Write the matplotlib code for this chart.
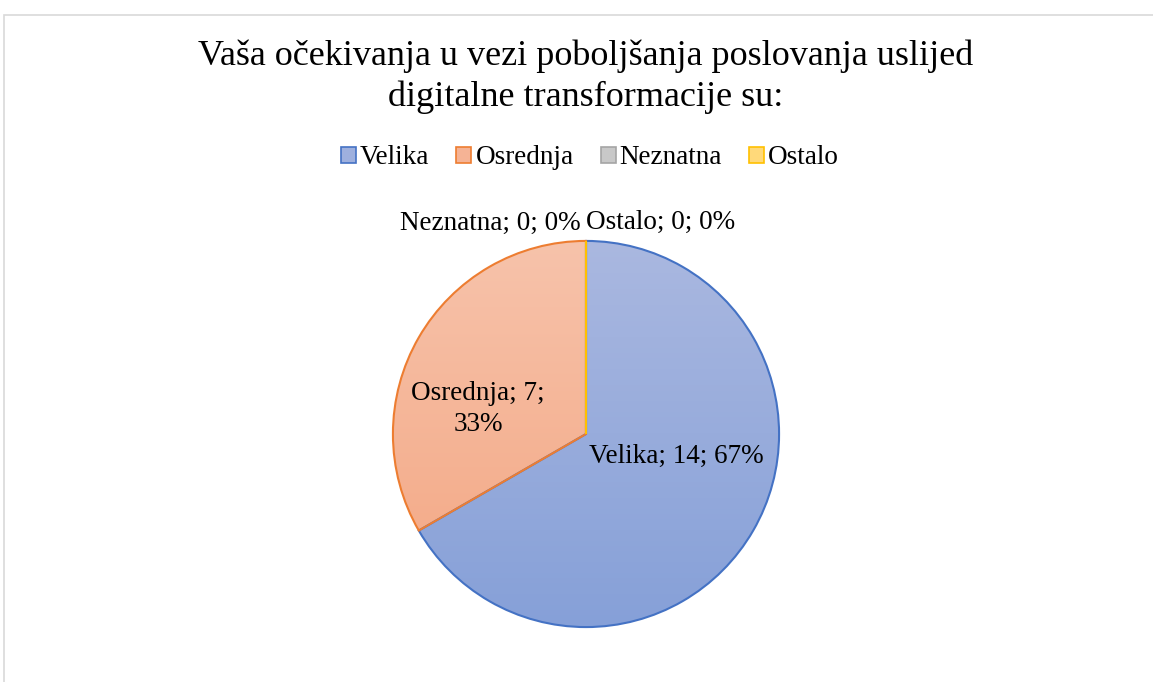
import numpy as np
import matplotlib
matplotlib.use("Agg")
import matplotlib.pyplot as plt
from matplotlib.patches import Patch, Rectangle
from matplotlib.colors import LinearSegmentedColormap


# =========================
# DATA
# =========================

categories = ["Velika", "Osrednja", "Neznatna", "Ostalo"]
counts = [14, 7, 0, 0]

title = "Vaša očekivanja u vezi poboljšanja poslovanja uslijed\ndigitalne transformacije su:"

edge_colors = ["#4472c4", "#ed7d31", "#a5a5a5", "#ffc000"]
top_colors = ["#aab8e0", "#f7c3ab", "#d0d0d0", "#ffdc85"]
bottom_colors = ["#86a0d8", "#f3a682", "#b8b8b8", "#ffcf50"]
legend_fill = ["#9eb0de", "#f5b395", "#c8c8c8", "#ffd97a"]


plt.rcParams["font.family"] = ["Liberation Serif", "DejaVu Serif"]

W, H = 1153, 682
fig = plt.figure(figsize=(W / 100, H / 100), dpi=100)

# chart border (light grey frame, clipped by image edges)
fig.patches.append(Rectangle(
    (3.5 / W, -0.1), 1.2, 1 - 14.5 / H + 0.1,
    transform=fig.transFigure, fill=False,
    edgecolor="#d9d9d9", linewidth=1.2
))


# =========================
# PIE
# =========================

cx, cy, r = 586, 434, 195
ax = fig.add_axes([(cx - r) / W, (H - cy - r) / H, 2 * r / W, 2 * r / H])

wedges, _ = ax.pie(
    counts,
    startangle=90,
    counterclock=False,
    radius=1,
    colors=top_colors,
    wedgeprops=dict(linewidth=1.5, zorder=3)
)

grad = np.linspace(0, 1, 256).reshape(-1, 1)

for w, ec, ct, cb in zip(wedges, edge_colors, top_colors, bottom_colors):
    w.set_edgecolor(ec)
    w.set_facecolor("none")
    cmap = LinearSegmentedColormap.from_list("g", [ct, cb])
    im = ax.imshow(grad, cmap=cmap, extent=[-1, 1, -1, 1],
                   aspect="auto", origin="upper", zorder=2)
    im.set_clip_path(w)

ax.set_xlim(-1.01, 1.01)
ax.set_ylim(-1.01, 1.01)
ax.set_aspect("equal")
ax.axis("off")

total = sum(counts)


def label_text(name, v):
    return f"{name}; {v}; {round(100 * v / total)}%"


label_size = 19.5
ax.text(0.467, -0.115, label_text(categories[0], counts[0]),
        ha="center", va="center", fontsize=label_size)
ax.text(-0.56, 0.13,
        f"{categories[1]}; {counts[1]};\n{round(100 * counts[1] / total)}%",
        ha="center", va="center", fontsize=label_size, linespacing=1.35)
ax.text(-0.03, 1.09, label_text(categories[2], counts[2]),
        ha="right", va="center", fontsize=label_size)
ax.text(0.0, 1.095, label_text(categories[3], counts[3]),
        ha="left", va="center", fontsize=label_size)


# =========================
# TITLE + LEGEND
# =========================

fig.text(586 / W, 1 - 77 / H, title, ha="center", va="center",
         fontsize=26, linespacing=1.3)

handles = [
    Patch(facecolor=f, edgecolor=e, linewidth=1.2)
    for f, e in zip(legend_fill, edge_colors)
]

fig.legend(
    handles, categories,
    loc="center", bbox_to_anchor=(590 / W, 1 - 158 / H),
    ncol=4, frameon=False, fontsize=19.5,
    handlelength=0.55, handleheight=0.55, handletextpad=0.15,
    columnspacing=1.0
)

fig.savefig("out.png", dpi=100)
plt.close(fig)
